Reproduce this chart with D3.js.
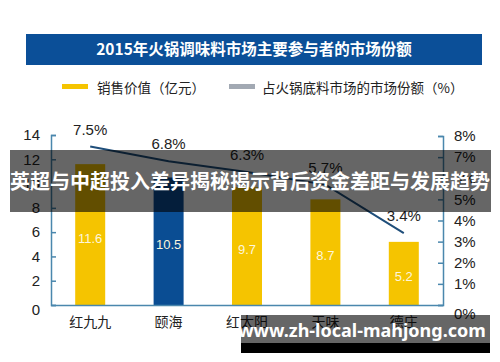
<!DOCTYPE html>
<html>
<head>
<meta charset="utf-8">
<script src="https://cdn.jsdelivr.net/npm/d3@7"></script>
<style>
  body { margin: 0; background: #fff; }
  svg { display: block; font-family: "Liberation Sans", "Noto Sans CJK SC", sans-serif; }
</style>
</head>
<body>
<svg id="chart" width="500" height="362"></svg>
<script>
const empresas = ["红九九", "颐海", "红太阳", "天味", "德庄"];
const ventas = [11.6, 10.5, 9.7, 8.7, 5.2];
const cuota = [7.5, 6.8, 6.3, 5.7, 3.4];
const ticksIzq = [0, 2, 4, 6, 8, 10, 12, 14];
const ticksDer = [0, 1, 2, 3, 4, 5, 6, 7, 8];
const titulo = "2015年火锅调味料市场主要参与者的市场份额";
const leyenda = ["销售价值（亿元）", "占火锅底料市场的市场份额（%）"];
const marcaAgua = "英超与中超投入差异揭秘揭示背后资金差距与发展趋势";
const marcaUrl = "www.zh-local-mahjong.com";

const svg = d3.select("#chart");
const ejeColor = "#4a87ad";

// titulo
svg.append("rect").attr("x", 26).attr("y", 34).attr("width", 456).attr("height", 31).attr("fill", "#0b4f98");
svg.append("text").attr("x", 254).attr("y", 55).attr("text-anchor", "middle")
  .attr("fill", "#fff").attr("font-size", 15.5).attr("font-weight", "bold")
  .attr("font-family", "'Noto Sans CJK SC', sans-serif").text(titulo);

// leyenda
svg.append("rect").attr("x", 62).attr("y", 84).attr("width", 26).attr("height", 5).attr("fill", "#f5c400");
svg.append("text").attr("x", 97).attr("y", 93).attr("font-size", 13.5).attr("fill", "#222")
  .attr("font-family", "'Noto Sans CJK SC', sans-serif").text(leyenda[0]);
svg.append("rect").attr("x", 229).attr("y", 84).attr("width", 26).attr("height", 5).attr("fill", "#a2a9b3");
svg.append("text").attr("x", 262).attr("y", 93).attr("font-size", 13.5).attr("fill", "#222")
  .attr("font-family", "'Noto Sans CJK SC', sans-serif").text(leyenda[1]);

const x = d3.scaleBand().domain(empresas).range([51, 443]);
const y = d3.scaleLinear().domain([0, 14]).range([305, 135]);
const y2 = d3.scaleLinear().domain([0, 8]).range([305, 136]);

// barras
svg.selectAll("rect.bar")
  .data(empresas)
  .enter()
  .append("rect")
  .attr("class", "bar")
  .attr("x", d => x(d) + x.bandwidth() / 2 - 15)
  .attr("y", (d, i) => y(ventas[i]))
  .attr("width", 30)
  .attr("height", (d, i) => y(0) - y(ventas[i]))
  .attr("fill", (d, i) => i == 1 ? "#0a4d93" : "#f5c400");

svg.selectAll("text.val")
  .data(empresas)
  .enter()
  .append("text")
  .attr("class", "val")
  .attr("x", d => x(d) + x.bandwidth() / 2)
  .attr("y", (d, i) => (y(ventas[i]) + y(0)) / 2 + 8)
  .attr("text-anchor", "middle")
  .attr("font-size", 13)
  .attr("fill", "#fdf6dc")
  .text((d, i) => ventas[i]);

// ejes
const gIzq = svg.append("g").attr("transform", "translate(51,0)")
  .call(d3.axisLeft(y).tickValues(ticksIzq).tickSize(-5).tickPadding(11));
const gDer = svg.append("g").attr("transform", "translate(443,0)")
  .call(d3.axisRight(y2).tickValues(ticksDer).tickSize(-5).tickPadding(11).tickFormat(d => d + "%"));
[gIzq, gDer].forEach(g => {
  g.select(".domain").attr("stroke", ejeColor).attr("stroke-width", 1.5);
  g.selectAll(".tick line").attr("stroke", ejeColor).attr("stroke-width", 1.5);
  g.selectAll(".tick text").attr("font-size", 15).attr("fill", "#222")
    .attr("font-family", "'Liberation Sans', sans-serif");
});
gIzq.select(".tick text").attr("dy", "0.6em");
gDer.select(".tick text").attr("dy", "0.9em");

svg.append("g").attr("transform", "translate(0,305)")
  .call(d3.axisBottom(x).tickSize(0).tickPadding(12))
  .call(g => g.select(".domain").attr("stroke", ejeColor).attr("stroke-width", 1.5))
  .call(g => g.selectAll(".tick text").attr("font-size", 14).attr("fill", "#222")
    .attr("font-family", "'Noto Sans CJK SC', sans-serif"));

// linea
const linea = d3.line()
  .x((d, i) => x(empresas[i]) + x.bandwidth() / 2)
  .y(d => y2(d));

svg.append("path")
  .datum(cuota)
  .attr("fill", "none")
  .attr("stroke", "#1f4e7a")
  .attr("stroke-width", 2)
  .attr("d", linea);

svg.selectAll("text.pct")
  .data(cuota)
  .enter()
  .append("text")
  .attr("class", "pct")
  .attr("x", (d, i) => x(empresas[i]) + x.bandwidth() / 2)
  .attr("y", d => y2(d) - 12)
  .attr("text-anchor", "middle")
  .attr("font-size", 15)
  .attr("fill", "#222")
  .text(d => d.toFixed(1) + "%");

// marcas de agua
svg.append("rect").attr("x", 10).attr("y", 150).attr("width", 481).attr("height", 62).attr("fill", "rgba(0,0,0,0.6)");
svg.append("text").attr("x", 250).attr("y", 189).attr("text-anchor", "middle")
  .attr("fill", "#fff").attr("font-size", 20).attr("font-weight", "bold")
  .attr("font-family", "'Noto Sans CJK SC', sans-serif").text(marcaAgua);

svg.append("rect").attr("x", 241).attr("y", 315).attr("width", 249).attr("height", 28).attr("fill", "rgba(0,0,0,0.6)");
svg.append("rect").attr("x", 241).attr("y", 343).attr("width", 249).attr("height", 10).attr("fill", "#000");
svg.append("text").attr("x", 362).attr("y", 337).attr("text-anchor", "middle")
  .attr("fill", "#fff").attr("font-size", 18).attr("font-weight", "bold")
  .attr("font-family", "'Noto Sans', sans-serif").text(marcaUrl);
</script>
</body>
</html>
